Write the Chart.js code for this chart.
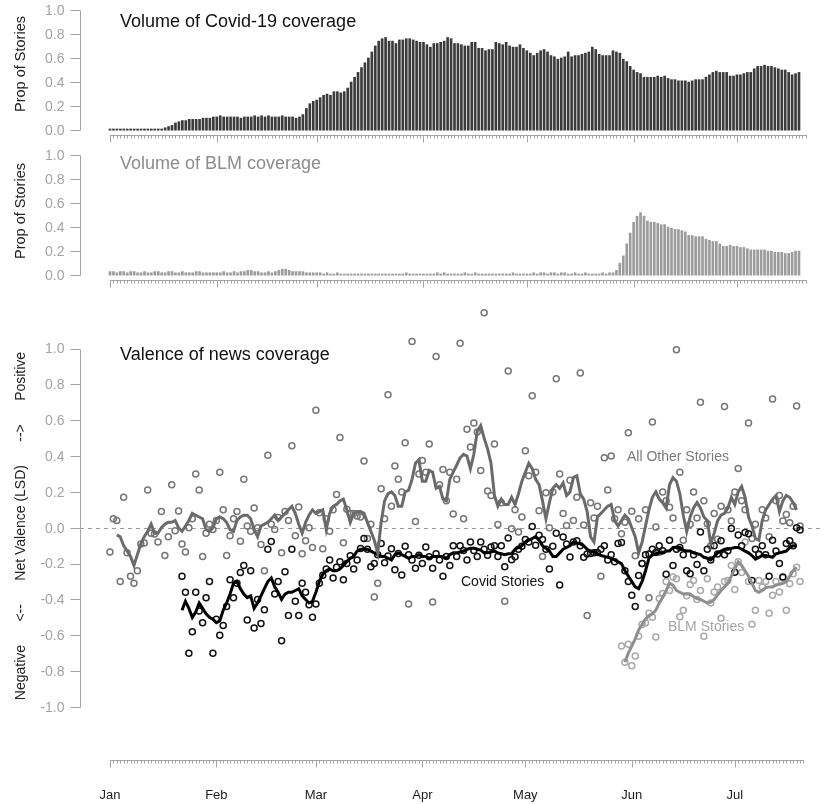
<!DOCTYPE html>
<html>
<head>
<meta charset="utf-8">
<script src="https://cdn.jsdelivr.net/npm/chart.js@4.4.0/dist/chart.umd.min.js"></script>
<style>
  body { margin: 0; background: #fff; width: 829px; height: 804px; position: relative; overflow: hidden; }
  canvas { position: absolute; left: 0; }
  #covidVol { top: 0; }
  #blmVol { top: 145px; }
  #valence { top: 290px; }
</style>
</head>
<body>
<canvas id="covidVol" width="829" height="145"></canvas>
<canvas id="blmVol" width="829" height="145"></canvas>
<canvas id="valence" width="829" height="514"></canvas>
<script>
// Days are counted from Jan 1 2020 (day 0)
const months = ['Jan', 'Feb', 'Mar', 'Apr', 'May', 'Jun', 'Jul']
const monthStartDays = [0, 31, 60, 91, 121, 152, 182]
const volumeTicks = [0, 0.2, 0.4, 0.6, 0.8, 1.0]
const valenceTicks = [-1, -0.8, -0.6, -0.4, -0.2, 0, 0.2, 0.4, 0.6, 0.8, 1.0]

// Proportion of stories about Covid-19, day 0..200
const covidVolume = [
  0.01, 0.01, 0.01, 0.01, 0.01, 0.01, 0.01, 0.01, 0.01, 0.01, 0.01, 0.01, 0.01, 0.01, 0.01, 0.01, 0.02,
  0.03, 0.04, 0.06, 0.07, 0.08, 0.08, 0.09, 0.09, 0.09, 0.09, 0.10, 0.10, 0.10, 0.11,
  0.11, 0.12, 0.11, 0.11, 0.11, 0.11, 0.11, 0.10, 0.11, 0.11, 0.11, 0.12, 0.11, 0.12, 0.11, 0.12, 0.11, 0.11, 0.11, 0.12, 0.11, 0.11, 0.11, 0.10,
  0.11, 0.13, 0.18, 0.22, 0.24, 0.25, 0.27, 0.29, 0.30, 0.29, 0.32, 0.32, 0.31, 0.32, 0.35, 0.40, 0.44, 0.48, 0.52, 0.56, 0.60, 0.65, 0.70, 0.74, 0.76, 0.77,
  0.74, 0.74, 0.72, 0.75, 0.75, 0.76, 0.76, 0.75, 0.74, 0.73,
  0.73, 0.71, 0.69, 0.72, 0.72, 0.73, 0.74, 0.77, 0.76, 0.72,
  0.72, 0.71, 0.70, 0.70, 0.73, 0.73, 0.68, 0.68, 0.66, 0.67,
  0.67, 0.73, 0.72, 0.71, 0.73, 0.70, 0.69, 0.69, 0.71, 0.68,
  0.66, 0.64, 0.62, 0.64, 0.66, 0.67, 0.65, 0.62, 0.61, 0.59,
  0.60, 0.61, 0.65, 0.61, 0.62, 0.62, 0.63, 0.64, 0.65, 0.69,
  0.67, 0.63, 0.62, 0.62,
  0.62, 0.66, 0.65, 0.64, 0.59, 0.57, 0.53, 0.50, 0.48, 0.47,
  0.44, 0.44, 0.44, 0.44, 0.45, 0.44, 0.45, 0.43, 0.42, 0.42,
  0.41, 0.41, 0.41, 0.40, 0.41, 0.42, 0.42, 0.42, 0.44, 0.46,
  0.48, 0.49, 0.48, 0.48, 0.48, 0.45, 0.45, 0.46, 0.46, 0.47,
  0.48, 0.48, 0.51, 0.53, 0.53, 0.54, 0.53, 0.53, 0.52, 0.51,
  0.50, 0.50, 0.48, 0.46, 0.47, 0.48
]

// Proportion of stories about BLM, day 0..200
const blmVolume = [
  0.03, 0.03, 0.02, 0.03, 0.03, 0.02, 0.03, 0.03, 0.02, 0.02, 0.03, 0.02, 0.02, 0.03, 0.03, 0.02,
  0.02, 0.03, 0.03, 0.02, 0.02, 0.03, 0.02, 0.02, 0.02, 0.03, 0.03, 0.02, 0.02, 0.02, 0.02,
  0.02, 0.02, 0.03, 0.02, 0.02, 0.03, 0.02, 0.03, 0.03, 0.04, 0.04, 0.03, 0.03, 0.02, 0.02,
  0.03, 0.02, 0.03, 0.04, 0.05, 0.05, 0.04, 0.03, 0.03, 0.03, 0.03, 0.02, 0.02, 0.02,
  0.02, 0.02, 0.01, 0.02, 0.01, 0.01, 0.02, 0.01, 0.01, 0.01,
  0.01, 0.01, 0.01, 0.01, 0.01, 0.01, 0.01, 0.01, 0.01, 0.01,
  0.01, 0.01, 0.01, 0.01, 0.01, 0.01, 0.02, 0.01, 0.01, 0.01,
  0.01, 0.01, 0.01, 0.01, 0.01, 0.02, 0.01, 0.02, 0.01, 0.01,
  0.01, 0.01, 0.01, 0.02, 0.01, 0.01, 0.02, 0.01, 0.01, 0.01,
  0.01, 0.01, 0.01, 0.01, 0.01, 0.01, 0.01, 0.02, 0.01, 0.01,
  0.01, 0.01, 0.01, 0.02, 0.01, 0.02, 0.02, 0.01, 0.02, 0.02,
  0.01, 0.02, 0.02, 0.01, 0.01, 0.02, 0.01, 0.01, 0.02, 0.01,
  0.01, 0.01, 0.01, 0.02, 0.01, 0.02,
  0.02, 0.04, 0.10, 0.16, 0.26, 0.35, 0.44, 0.49, 0.52, 0.49,
  0.45, 0.44, 0.44, 0.43, 0.42, 0.42, 0.40, 0.39, 0.38, 0.38,
  0.37, 0.36, 0.33, 0.33, 0.32, 0.32, 0.32, 0.30, 0.29, 0.28,
  0.28, 0.26, 0.24, 0.24, 0.25, 0.24, 0.24, 0.23, 0.23, 0.22,
  0.21, 0.21, 0.21, 0.21, 0.21, 0.20, 0.20, 0.19, 0.19, 0.19,
  0.18, 0.18, 0.19, 0.20, 0.20
]

// Daily net valence of all other stories, day 0..201
const otherStart = 0
const otherPoints = [
  -0.135, 0.05, 0.04, -0.30, 0.17, -0.14, -0.27, -0.31, -0.24, -0.09,
  -0.085, 0.21, -0.03, -0.035, -0.08, 0.09, -0.155, -0.05, 0.24, -0.017,
  0.094, -0.09, -0.136, 0.00, 0.05, 0.30, 0.21, -0.16, -0.03, 0.02,
  -0.01, 0.04, 0.31, 0.10, -0.155, -0.044, 0.05, 0.09, -0.075, 0.27,
  0.01, -0.02, 0.11, 0.00, -0.094, -0.24, 0.405, 0.02, -0.01, 0.057,
  -0.14, 0.09, 0.04, 0.457, -0.044, 0.116, -0.145, -0.072, 0.00, -0.11,
  0.655, 0.084, -0.117, 0.05, -0.02, 0.10, 0.185, 0.503, -0.084, 0.103,
  0.08, 0.08, 0.065, 0.06, 0.373, -0.06, 0.02, -0.387, -0.31, 0.217,
  0.05, 0.742, 0.12, 0.345, 0.27, 0.20, 0.475, -0.426, 1.04, 0.035,
  0.30, 0.375, 0.31, 0.467, -0.415, 0.955, 0.24, 0.325, 0.15, 0.31,
  0.077, 0.27, 1.03, 0.05, 0.55, 0.45, 0.585, 0.534, 0.32, 1.20,
  0.205, 0.18, 0.467, 0.018, 0.14, -0.41, 0.874, -0.005, 0.10, -0.024,
  0.06, 0.43, 0.29, 0.737, 0.31, 0.095, -0.16, 0.196, 0.00, 0.20,
  0.832, 0.30, 0.08, 0.013, 0.265, 0.04, 0.17, 0.863, 0.015, -0.49,
  0.14, 0.055, 0.12, -0.27, 0.39, 0.21, 0.40, 0.05, 0.10, -0.033,
  0.03, 0.53, 0.092, -0.156, 0.05, -0.20, 0.10, -0.39, 0.59, 0.004,
  -0.137, 0.20, 0.15, 0.114, 0.055, 0.993, 0.31, -0.07, 0.10, 0.02,
  0.20, 0.055, 0.70, 0.15, 0.022, -0.10, 0.08, -0.064, 0.12, 0.676,
  0.10, 0.037, 0.20, 0.33, 0.15, 0.10, 0.585, -0.06, 0.02, -0.15,
  0.10, 0.055, -0.05, 0.718, 0.15, 0.18, 0.037, 0.074, 0.028, 0.12,
  0.68, 0.01
]

// Daily net valence of Covid stories, day 21..201
const covidStart = 21
const covidPoints = [
  -0.27, -0.36, -0.70, -0.58, -0.36, -0.465, -0.53, -0.39, -0.30,
  -0.70, -0.51, -0.60, -0.545, -0.44, -0.29, -0.39, -0.31, -0.25, -0.21,
  -0.515, -0.24, -0.56, -0.40, -0.535, -0.457, -0.12, -0.077, -0.37, -0.30,
  -0.63, -0.245, -0.49, -0.12, -0.41, -0.49, -0.31, -0.36, -0.43, -0.50,
  -0.425, -0.31, -0.265, -0.23, -0.18, -0.28, -0.22, -0.19, -0.29, -0.20,
  -0.156, -0.23, -0.18, -0.116, -0.06, -0.12, -0.217, -0.20, -0.15, -0.088,
  -0.195, -0.158, -0.117, -0.235, -0.143, -0.263, -0.103, -0.15, -0.18, -0.226,
  -0.153, -0.20, -0.107, -0.162, -0.226, -0.145, -0.18, -0.27, -0.16, -0.21,
  -0.10, -0.16, -0.10, -0.127, -0.18, -0.08, -0.127, -0.16, -0.08, -0.12,
  -0.153, -0.107, -0.10, -0.16, -0.10, -0.217, -0.057, -0.178, -0.162, -0.12,
  -0.103, -0.066, -0.08, 0.007, -0.097, -0.042, -0.066, -0.12, -0.23, -0.103,
  -0.03, -0.32, -0.052, -0.09, -0.163, -0.08, -0.073, -0.10, -0.165, -0.147,
  -0.143, -0.14, -0.138, -0.12, -0.10, -0.18, -0.15, -0.19, -0.088, -0.083,
  -0.24, -0.30, -0.376, -0.44, -0.266, -0.20, -0.15, -0.147, -0.12, -0.138,
  -0.10, -0.128, -0.26, -0.07, -0.21, -0.12, -0.11, -0.15, -0.24, -0.257,
  -0.15, -0.205, -0.024, -0.24, -0.12, -0.18, -0.10, -0.147, -0.073, -0.15,
  -0.128, -0.004, -0.248, -0.04, -0.10, -0.027, -0.033, -0.294, -0.12, -0.147,
  -0.10, -0.15, -0.27, -0.07, -0.13, -0.20, -0.275, -0.088, -0.073, -0.10,
  0.00, -0.013
]

// Daily net valence of BLM stories, day 149..201
const blmStart = 149
const blmPoints = [
  -0.66,
  -0.75, -0.65, -0.77, -0.715, -0.606, -0.54, -0.53, -0.477, -0.50, -0.61,
  -0.395, -0.367, -0.30, -0.35, -0.275, -0.285, -0.496, -0.46, -0.38, -0.316,
  -0.294, -0.40, -0.35, -0.606, -0.284, -0.42, -0.358, -0.33, -0.505, -0.30,
  -0.294, -0.21, -0.345, -0.19, -0.25, -0.079, -0.30, -0.538, -0.46, -0.294,
  -0.33, -0.30, -0.477, -0.376, -0.30, -0.358, -0.28, -0.46, -0.312, -0.257,
  -0.22, -0.30
]

// Smoothed lines
const otherLineStart = 2
const otherLine = [
  -0.04, -0.05, -0.10, -0.13, -0.16, -0.21, -0.15, -0.09,
  -0.05, -0.02, 0.02, -0.03, -0.03, 0.00, 0.02, 0.03, 0.03, 0.04,
  0.00, -0.02, 0.01, 0.04, 0.08, 0.07, 0.06, 0.05, -0.01, -0.02,
  0.00, 0.05, 0.06, 0.05, 0.03, -0.01, -0.02, 0.04, 0.06, 0.07,
  0.07, 0.05, -0.01, -0.05, 0.01, 0.02, 0.03, 0.05, 0.07, 0.04,
  0.06, 0.08, 0.10, 0.12, 0.08, 0.02, -0.03, 0.03, 0.07, 0.10,
  0.08, 0.09, 0.10, -0.01, 0.08, 0.12, 0.13, 0.15, 0.16, 0.10,
  0.03, 0.08, 0.09, 0.09, 0.08, 0.03, -0.02, -0.07, -0.14, 0.03,
  0.15, 0.19, 0.20, 0.18, 0.12, 0.12, 0.20, 0.21, 0.27, 0.36,
  0.38, 0.26, 0.26, 0.32, 0.31, 0.22, 0.23, 0.16, 0.15, 0.27,
  0.31, 0.35, 0.39, 0.41, 0.40, 0.33, 0.41, 0.54, 0.57, 0.50,
  0.44, 0.36, 0.18, 0.12, 0.16, 0.13, 0.13, 0.17, 0.13, 0.19,
  0.26, 0.31, 0.36, 0.33, 0.27, 0.24, 0.15, 0.05, 0.14, 0.22,
  0.24, 0.22, 0.25, 0.18, 0.20, 0.28, 0.29, 0.19, 0.16, 0.09,
  -0.05, -0.08, 0.06, 0.08, 0.10, 0.12, 0.13, 0.04, 0.01, 0.04,
  0.07, 0.05, 0.00, -0.05, -0.14, -0.08, 0.01, 0.10, 0.17, 0.20,
  0.16, 0.14, 0.11, 0.24, 0.28, 0.26, 0.19, 0.07, -0.02, 0.06,
  0.11, 0.14, 0.11, 0.06, 0.04, -0.09, -0.03, 0.04, 0.07, 0.08,
  0.11, 0.17, 0.13, 0.20, 0.23, 0.17, 0.06, 0.01, -0.06, -0.07,
  0.04, 0.10, 0.13, 0.16, 0.18, 0.09, 0.15, 0.18, 0.17, 0.14,
  0.10
]

const covidLineStart = 21
const covidLine = [
  -0.46, -0.41, -0.45, -0.50, -0.47, -0.42, -0.45, -0.48, -0.50,
  -0.51, -0.53, -0.52, -0.46, -0.42, -0.37, -0.31, -0.30, -0.34, -0.37,
  -0.39, -0.38, -0.45, -0.42, -0.38, -0.34, -0.30, -0.28, -0.33, -0.36,
  -0.40, -0.37, -0.36, -0.36, -0.35, -0.34, -0.38, -0.40, -0.42, -0.41,
  -0.36, -0.30, -0.26, -0.24, -0.23, -0.24, -0.24, -0.23, -0.21, -0.19,
  -0.17, -0.16, -0.13, -0.12, -0.12, -0.12, -0.13, -0.14, -0.15, -0.16,
  -0.16, -0.17, -0.18, -0.15, -0.14, -0.15, -0.16, -0.17, -0.16, -0.16,
  -0.15, -0.16, -0.16, -0.17, -0.16, -0.16, -0.16, -0.16, -0.17, -0.15,
  -0.14, -0.14, -0.135, -0.13, -0.12, -0.115, -0.115, -0.12, -0.125, -0.14,
  -0.14, -0.135, -0.13, -0.14, -0.145, -0.15, -0.145, -0.145, -0.12, -0.11,
  -0.10, -0.08, -0.07, -0.06, -0.05, -0.07, -0.10, -0.115, -0.13, -0.16,
  -0.16, -0.14, -0.12, -0.11, -0.10, -0.08, -0.085, -0.09, -0.10, -0.12,
  -0.13, -0.135, -0.145, -0.155, -0.16, -0.165, -0.17, -0.18, -0.19, -0.20,
  -0.24, -0.27, -0.30, -0.33, -0.34, -0.30, -0.24, -0.17, -0.15, -0.145,
  -0.14, -0.14, -0.13, -0.13, -0.11, -0.11, -0.11, -0.125, -0.13, -0.13,
  -0.14, -0.145, -0.15, -0.165, -0.17, -0.18, -0.16, -0.14, -0.13, -0.12,
  -0.12, -0.115, -0.11, -0.11, -0.12, -0.13, -0.14, -0.155, -0.175, -0.165,
  -0.155, -0.155, -0.16, -0.165, -0.145, -0.14, -0.135, -0.13, -0.11, -0.10,
  -0.10
]

const blmLineStart = 150
const blmLine = [
  -0.75, -0.70, -0.66, -0.62, -0.57, -0.54, -0.51, -0.49, -0.48, -0.46,
  -0.42, -0.39, -0.35, -0.31, -0.32, -0.35, -0.36, -0.37, -0.37, -0.37,
  -0.385, -0.395, -0.40, -0.41, -0.42, -0.415, -0.40, -0.375, -0.35, -0.33,
  -0.31, -0.27, -0.23, -0.19, -0.21, -0.24, -0.27, -0.31, -0.35, -0.36,
  -0.35, -0.335, -0.33, -0.33, -0.32, -0.315, -0.31, -0.30, -0.27, -0.24,
  -0.22
]

// x range of the plot region (R adds 4% on each side)
const X_MIN = -8.71
const X_MAX = 207.84
const AXIS_END_DAY = 202
const AXIS_GREY = '#a3a3a3'
const FONT = '"Liberation Sans", Arial, sans-serif'

function toXY(values, start) {
  return values.map((v, i) => ({ x: start + i, y: v }))
}

// R style axes: line only between first and last tick, ticks outward
const rAxes = {
  id: 'rAxes',
  afterDraw(chart, args, opts) {
    const { ctx, chartArea, scales } = chart
    const x = scales.x
    const y = scales.y
    ctx.save()
    ctx.strokeStyle = AXIS_GREY
    ctx.lineWidth = 1

    // y axis
    const left = chartArea.left + 0.5
    const ticks = opts.yTicks
    ctx.beginPath()
    ctx.moveTo(left, Math.round(y.getPixelForValue(ticks[ticks.length - 1])) + 0.5)
    ctx.lineTo(left, Math.round(y.getPixelForValue(ticks[0])) + 0.5)
    ticks.forEach(t => {
      const py = Math.round(y.getPixelForValue(t)) + 0.5
      ctx.moveTo(left, py)
      ctx.lineTo(left - 10, py)
    })
    ctx.stroke()
    ctx.fillStyle = AXIS_GREY
    ctx.font = '14px ' + FONT
    ctx.textAlign = 'right'
    ctx.textBaseline = 'middle'
    ticks.forEach(t => {
      ctx.fillText(t.toFixed(1), left - 16, y.getPixelForValue(t) + 1)
    })

    // x axis with a tick every day, longer ticks at month starts
    const bottom = chartArea.bottom + 0.5
    ctx.beginPath()
    ctx.moveTo(Math.round(x.getPixelForValue(0)), bottom)
    ctx.lineTo(Math.round(x.getPixelForValue(AXIS_END_DAY)) + 1, bottom)
    for (let d = 0; d <= AXIS_END_DAY; d++) {
      const px = Math.round(x.getPixelForValue(d)) + 0.5
      const len = monthStartDays.includes(d) ? 7 : 3
      ctx.moveTo(px, bottom)
      ctx.lineTo(px, bottom + len)
    }
    ctx.stroke()

    if (opts.monthLabels) {
      ctx.fillStyle = '#222'
      ctx.font = '13px ' + FONT
      ctx.textAlign = 'center'
      ctx.textBaseline = 'middle'
      months.forEach((m, i) => {
        ctx.fillText(m, x.getPixelForValue(monthStartDays[i]), bottom + 35)
      })
    }
    ctx.restore()
  }
}

// dashed zero line
const zeroLine = {
  id: 'zeroLine',
  beforeDatasetsDraw(chart, args, opts) {
    if (!opts.show) return
    const { ctx, chartArea, scales } = chart
    const py = Math.round(scales.y.getPixelForValue(0)) + 0.5
    ctx.save()
    ctx.strokeStyle = '#9a9a9a'
    ctx.lineWidth = 1
    ctx.setLineDash([4, 4])
    ctx.beginPath()
    ctx.moveTo(chartArea.left, py)
    ctx.lineTo(chartArea.right, py)
    ctx.stroke()
    ctx.restore()
  }
}

// titles and in-plot labels
const texts = {
  id: 'texts',
  afterDraw(chart, args, opts) {
    const ctx = chart.ctx
    ctx.save()
    ;(opts.items || []).forEach(t => {
      ctx.fillStyle = t.color
      ctx.font = t.font
      ctx.textBaseline = 'alphabetic'
      if (t.rotate) {
        ctx.save()
        ctx.translate(t.x, t.y)
        ctx.rotate(-Math.PI / 2)
        ctx.textAlign = 'center'
        ctx.fillText(t.text, 0, 0)
        ctx.restore()
      } else {
        ctx.textAlign = 'left'
        ctx.fillText(t.text, t.x, t.y)
      }
    })
    ctx.restore()
  }
}

function baseOptions(yMin, yMax, padding, pluginOpts) {
  return {
    responsive: false,
    animation: false,
    devicePixelRatio: 1,
    events: [],
    layout: { padding: padding },
    scales: {
      x: { type: 'linear', min: X_MIN, max: X_MAX, display: false, offset: false },
      y: { type: 'linear', min: yMin, max: yMax, display: false }
    },
    plugins: Object.assign({
      legend: { display: false },
      tooltip: { enabled: false }
    }, pluginOpts)
  }
}

const panelPadding = { left: 80, right: 3, top: 5, bottom: 10 }

new Chart(document.getElementById('covidVol'), {
  type: 'bar',
  data: {
    datasets: [{
      data: toXY(covidVolume, 0),
      backgroundColor: '#3b3b3b',
      borderWidth: 0,
      barThickness: 2
    }]
  },
  options: baseOptions(-0.04, 1.04, panelPadding, {
    rAxes: { yTicks: volumeTicks },
    zeroLine: { show: false },
    texts: {
      items: [
        { text: 'Volume of Covid-19 coverage', x: 120, y: 27, color: '#111', font: '18px ' + FONT },
        { text: 'Prop of Stories', x: 25, y: 64, color: '#222', font: '14.5px ' + FONT, rotate: true }
      ]
    }
  }),
  plugins: [rAxes, zeroLine, texts]
})

new Chart(document.getElementById('blmVol'), {
  type: 'bar',
  data: {
    datasets: [{
      data: toXY(blmVolume, 0),
      backgroundColor: '#9c9c9c',
      borderWidth: 0,
      barThickness: 2
    }]
  },
  options: baseOptions(-0.04, 1.04, panelPadding, {
    rAxes: { yTicks: volumeTicks },
    zeroLine: { show: false },
    texts: {
      items: [
        { text: 'Volume of BLM coverage', x: 120, y: 24, color: '#8c8c8c', font: '18px ' + FONT },
        { text: 'Prop of Stories', x: 25, y: 66, color: '#222', font: '14.5px ' + FONT, rotate: true }
      ]
    }
  }),
  plugins: [rAxes, zeroLine, texts]
})

function pointSet(values, start, color, order) {
  return {
    type: 'scatter',
    data: toXY(values, start),
    showLine: false,
    pointStyle: 'circle',
    pointRadius: 3,
    pointBorderWidth: 1.5,
    pointBorderColor: color,
    pointBackgroundColor: 'rgba(0,0,0,0)',
    order: order
  }
}

function lineSet(values, start, color) {
  return {
    type: 'line',
    data: toXY(values, start),
    borderColor: color,
    borderWidth: 3,
    pointRadius: 0,
    tension: 0,
    fill: false,
    order: 0
  }
}

new Chart(document.getElementById('valence'), {
  type: 'scatter',
  data: {
    datasets: [
      pointSet(otherPoints, otherStart, '#767676', 3),
      pointSet(blmPoints, blmStart, '#a9a9a9', 2),
      pointSet(covidPoints, covidStart, '#111111', 1),
      lineSet(otherLine, otherLineStart, '#6a6a6a'),
      lineSet(blmLine, blmLineStart, '#8f8f8f'),
      lineSet(covidLine, covidLineStart, '#000000')
    ]
  },
  options: baseOptions(-1.296, 1.296, { left: 80, right: 3, top: 3, bottom: 44 }, {
    rAxes: { yTicks: valenceTicks, monthLabels: true },
    zeroLine: { show: true },
    texts: {
      items: [
        { text: 'Valence of news coverage', x: 120, y: 70, color: '#111', font: '18px ' + FONT },
        { text: 'All Other Stories', x: 627, y: 171, color: '#7a7a7a', font: '14px ' + FONT },
        { text: 'Covid Stories', x: 461, y: 296, color: '#111', font: '14px ' + FONT },
        { text: 'BLM Stories', x: 668, y: 341, color: '#a5a5a5', font: '14px ' + FONT },
        { text: 'Negative      <--      Net Valence (LSD)      -->      Positive', x: 25, y: 236, color: '#222', font: '14px ' + FONT, rotate: true }
      ]
    }
  }),
  plugins: [rAxes, zeroLine, texts]
})
</script>
</body>
</html>
